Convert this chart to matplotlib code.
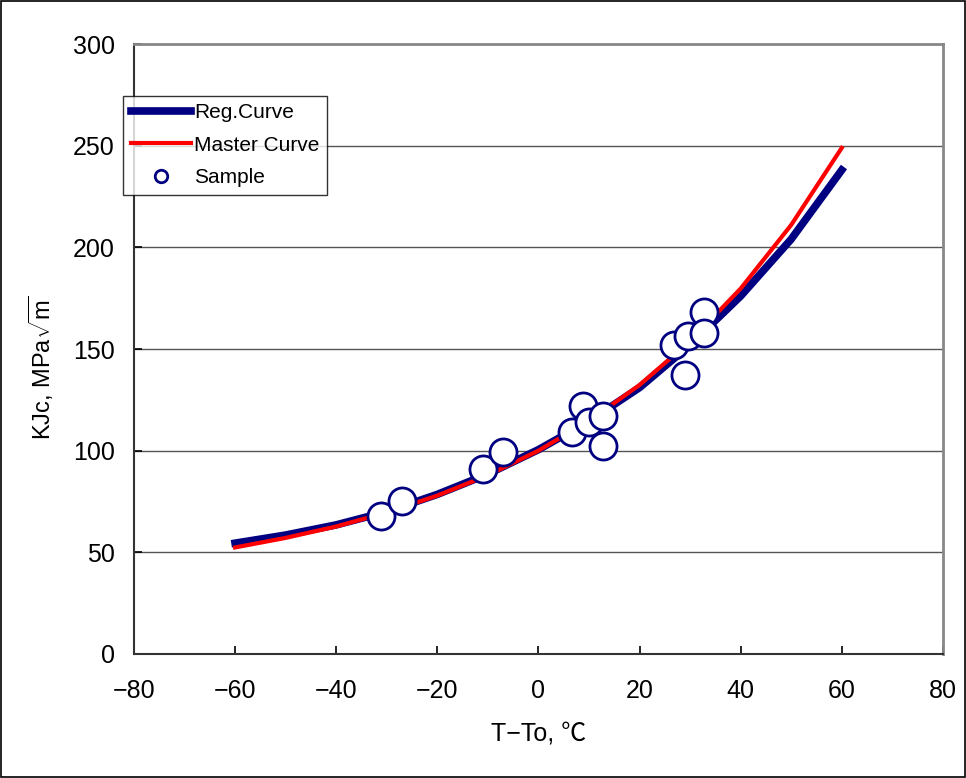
import matplotlib.pyplot as plt
from matplotlib.patches import Rectangle

plt.rcParams["font.family"] = ["Liberation Sans", "Noto Sans CJK JP", "DejaVu Sans"]
plt.rcParams["mathtext.fontset"] = "custom"
plt.rcParams["mathtext.rm"] = "Liberation Sans"

# curve values, every 10 degC
temps = [-60, -50, -40, -30, -20, -10, 0, 10, 20, 30, 40, 50, 60]
reg_curve = [54.5, 58.5, 63.5, 70.0, 78.5, 88.5, 100.5, 114.5, 131.0, 152.0, 176.0, 204.0, 238.0]
master_curve = [52.4, 57.1, 62.7, 69.6, 77.9, 87.9, 100.0, 114.6, 132.3, 153.8, 179.7, 211.0, 248.9]

# sample points
sample_t = [-31.2, -27.0, -11.0, -7.0, 6.6, 8.8, 10.0, 12.8, 12.8, 26.8, 29.0, 29.6, 32.7, 32.7]
sample_k = [67.9, 75.3, 91.0, 99.4, 109.2, 122.0, 114.1, 102.3, 117.1, 152.0, 137.2, 156.4, 168.2, 157.9]

fig = plt.figure(figsize=(9.66, 7.78), dpi=100)
ax = fig.add_axes([0.1387, 0.1594, 0.8373, 0.7840])

ax.plot(temps, reg_curve, color="#000080", linewidth=5.5, label="Reg.Curve", zorder=3)
ax.plot(temps, master_curve, color="#ff0000", linewidth=3, label="Master Curve", zorder=4)
ax.plot(sample_t, sample_k, linestyle="none", marker="o", markersize=19.5,
        markerfacecolor="white", markeredgecolor="#000080", markeredgewidth=2,
        label="Sample", zorder=5)

ax.set_xlim(-80, 80)
ax.set_ylim(0, 300)
ax.set_xticks(range(-80, 81, 20))
ax.set_yticks(range(0, 301, 50))
ax.yaxis.grid(True, color="#555555", linewidth=1)
ax.set_axisbelow(True)
ax.tick_params(direction="in", length=6, width=1.2, labelsize=18)
ax.tick_params(axis="x", pad=18)
ax.tick_params(axis="y", pad=14)

for side in ["left", "bottom"]:
    ax.spines[side].set_color("#333333")
    ax.spines[side].set_linewidth(1.5)
for side in ["top", "right"]:
    ax.spines[side].set_color("#888888")
    ax.spines[side].set_linewidth(2)

ax.set_xlabel("T−To, ℃", fontsize=18)
ax.set_ylabel(r"KJc, MPa$\sqrt{\mathrm{m}}$", fontsize=17)
ax.xaxis.set_label_coords(0.5, -0.11)
ax.yaxis.set_label_coords(-0.096, 0.47)

leg = ax.legend(loc="upper left", bbox_to_anchor=(-0.013, 0.915), fontsize=15,
                frameon=True, fancybox=False, handlelength=2.9, borderpad=0.35,
                labelspacing=0.65, handletextpad=0.15, borderaxespad=0)
leg.get_frame().set_edgecolor("black")
leg.get_frame().set_linewidth(1)
leg.legend_handles[2].set_markersize(9)

fig.patches.append(Rectangle((0.001, 0.001), 0.998, 0.998, transform=fig.transFigure,
                             fill=False, edgecolor="black", linewidth=1.2))

fig.savefig("out.png", dpi=100)
